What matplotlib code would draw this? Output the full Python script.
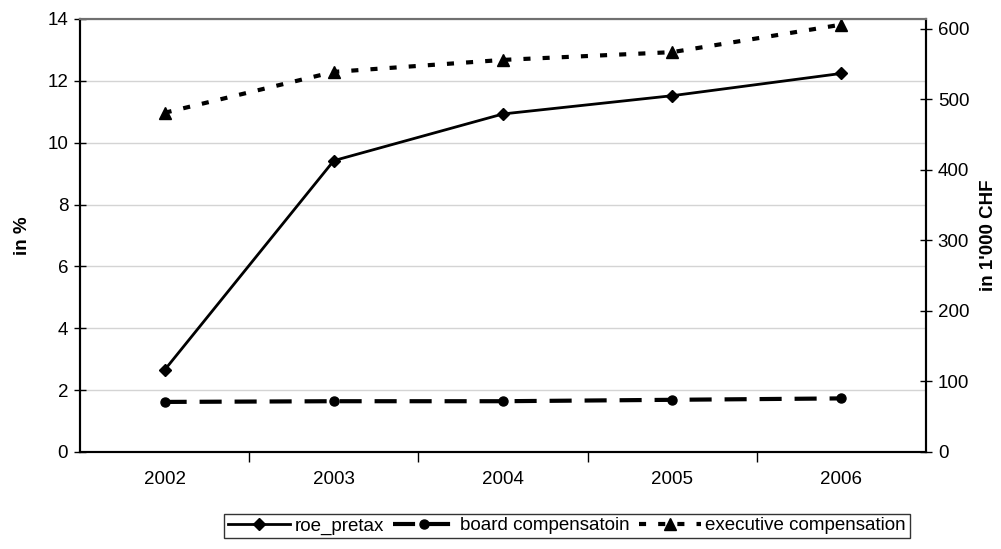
import matplotlib
matplotlib.use("Agg")
import matplotlib.pyplot as plt

plt.rcParams["font.family"] = ["Liberation Sans", "DejaVu Sans"]

# data
years = ["2002", "2003", "2004", "2005", "2006"]
roe_pretax = [2.65, 9.42, 10.93, 11.52, 12.24]          # in %
board_comp = [71, 72, 72, 74, 76]                       # in 1'000 CHF
exec_comp = [481, 539, 556, 567, 606]                   # in 1'000 CHF

left_ticks = [0, 2, 4, 6, 8, 10, 12, 14]
right_ticks = [0, 100, 200, 300, 400, 500, 600]

FS = 13.5


def main():
    fig = plt.figure(figsize=(10.01, 5.49), dpi=100)
    ax = fig.add_axes([0.0799, 0.1767, 0.8452, 0.7887])
    ax2 = ax.twinx()

    x = list(range(len(years)))

    l1, = ax.plot(x, roe_pretax, color="black", lw=2.0, marker="D", ms=6,
                  label="roe_pretax", zorder=3)
    l2, = ax2.plot(x, board_comp, color="black", lw=3.0, ls=(0, (5.3, 3.1)),
                   marker="o", ms=6.5, label="board compensatoin",
                   dash_capstyle="butt")
    l3, = ax2.plot(x, exec_comp, color="black", lw=3.0, ls=(0, (1.7, 2.9)),
                   marker="^", ms=8, label="executive compensation",
                   dash_capstyle="butt")

    ax.set_xlim(-0.5, len(years) - 0.5)
    ax.set_ylim(0, 14)
    ax2.set_ylim(0, 614)
    ax.set_yticks(left_ticks)
    ax2.set_yticks(right_ticks)

    # category labels centred, tick marks at category boundaries
    ax.set_xticks(x)
    ax.set_xticklabels(years)
    ax.set_xticks([i + 0.5 for i in x[:-1]], minor=True)
    ax.tick_params(axis="x", which="major", length=0, pad=14, labelsize=FS)
    ax.tick_params(axis="x", which="minor", length=7, width=1, direction="out")

    ax.tick_params(axis="y", direction="inout", length=9, width=1, labelsize=FS, pad=4)
    ax2.tick_params(axis="y", direction="inout", length=9, width=1, labelsize=FS, pad=4)

    ax.yaxis.grid(True, color="#d4d4d4", lw=1)
    ax.set_axisbelow(True)

    for a in (ax, ax2):
        a.spines["top"].set_color("#707070")
        a.spines["top"].set_linewidth(1.5)
        for s in ("left", "right", "bottom"):
            a.spines[s].set_color("black")
            a.spines[s].set_linewidth(1.5)

    ax.set_ylabel("in %", fontsize=FS, fontweight="bold", labelpad=12)
    ax2.set_ylabel("in 1'000 CHF", fontsize=FS, fontweight="bold", labelpad=8)

    leg = fig.legend(handles=[l1, l2, l3], loc="center",
                     bbox_to_anchor=(0.5664, 0.0419), ncol=3, numpoints=1,
                     fontsize=FS, frameon=True, fancybox=False,
                     handlelength=3.3, handletextpad=0.25, columnspacing=0.5,
                     borderpad=0.2, borderaxespad=0)
    leg.get_frame().set_edgecolor("black")
    leg.get_frame().set_linewidth(1.0)

    fig.savefig("out.png", dpi=100)
    plt.close(fig)


if __name__ == "__main__":
    main()
